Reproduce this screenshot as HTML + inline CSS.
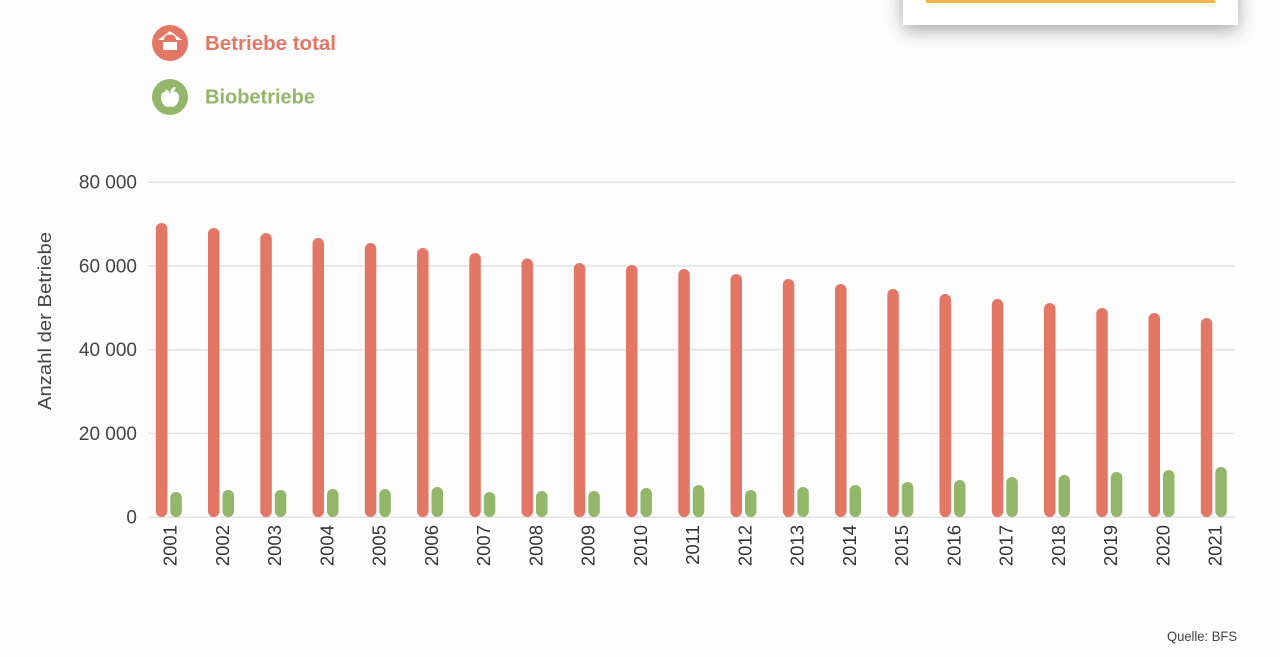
<!DOCTYPE html>
<html>
<head>
<meta charset="utf-8">
<style>
  html,body{margin:0;padding:0;background:#fdfdfd;}
  svg{display:block;}
  text{font-family:"Liberation Sans",sans-serif;}
</style>
</head>
<body>
<svg width="1280" height="657" viewBox="0 0 1280 657" xmlns="http://www.w3.org/2000/svg">
  <defs>
    <filter id="sh" x="-20%" y="-100%" width="140%" height="400%">
      <feGaussianBlur in="SourceAlpha" stdDeviation="9"/>
      <feOffset dy="5" result="b"/>
      <feComponentTransfer><feFuncA type="linear" slope="0.35"/></feComponentTransfer>
      <feMerge><feMergeNode/><feMergeNode in="SourceGraphic"/></feMerge>
    </filter>
  </defs>
  <rect width="1280" height="657" fill="#fdfdfd"/>

  <!-- top-right card -->
  <rect x="903" y="-30" width="335" height="55" fill="#ffffff" filter="url(#sh)"/>
  <rect x="926" y="0" width="289" height="3" fill="#f5b54b"/>

  <!-- legend -->
  <circle cx="170" cy="43" r="18" fill="#e37766"/>
  <polygon points="158,40 170,31 182,40" fill="#ffffff"/>
  <path d="M164,40 Q164,34.5 170,34.5 Q176,34.5 176,40 Z" fill="#e37766"/>
  <rect x="163" y="42" width="14" height="8" fill="#ffffff"/>
  <text x="205" y="50" font-size="20.5" font-weight="bold" fill="#e37766" textLength="131" lengthAdjust="spacingAndGlyphs">Betriebe total</text>

  <circle cx="170" cy="97" r="18" fill="#94b66a"/>
  <path d="M170,93.5 C166,90 161,91.5 161,97.5 C161,103 165,107 168,107 C169,107 169.5,106.3 170,106.3 C170.5,106.3 171,107 172,107 C175,107 179,103 179,97.5 C179,91.5 174,90 170,93.5 Z" fill="#ffffff"/>
  <path d="M170.5,92.5 C170.5,89 172.5,87 175.5,87 C175.5,90 173.5,92.5 170.5,92.5 Z" fill="#ffffff"/>
  <path d="M169.5,92.5 C168.5,90.5 167,89.5 165,89.5 C165.5,91.5 167.3,92.6 169.5,92.5 Z" fill="#ffffff"/>
  <text x="205" y="103.5" font-size="20.5" font-weight="bold" fill="#94b66a" textLength="110" lengthAdjust="spacingAndGlyphs">Biobetriebe</text>

  <!-- gridlines -->
  <g stroke="#e2e2e2" stroke-width="1.5">
    <line x1="148" y1="182.3" x2="1235" y2="182.3"/>
    <line x1="148" y1="266" x2="1235" y2="266"/>
    <line x1="148" y1="349.7" x2="1235" y2="349.7"/>
    <line x1="148" y1="433.5" x2="1235" y2="433.5"/>
    <line x1="148" y1="517.2" x2="1235" y2="517.2"/>
  </g>

  <!-- y tick labels -->
  <g font-size="19" fill="#444" text-anchor="end">
    <text x="137" y="188.5">80 000</text>
    <text x="137" y="272.5">60 000</text>
    <text x="137" y="356">40 000</text>
    <text x="137" y="440">20 000</text>
    <text x="137" y="523.5">0</text>
  </g>

  <!-- y title -->
  <text transform="translate(51,321) rotate(-90)" font-size="18.5" fill="#444" text-anchor="middle" textLength="178" lengthAdjust="spacingAndGlyphs">Anzahl der Betriebe</text>

  <!-- bars -->
  <g id="bars"></g>

  <g fill="#e37766">
    <rect x="155.8" y="223" width="11.5" height="294" rx="5.75"/>
    <rect x="208.0" y="228" width="11.5" height="289" rx="5.75"/>
    <rect x="260.3" y="233" width="11.5" height="284" rx="5.75"/>
    <rect x="312.5" y="238" width="11.5" height="279" rx="5.75"/>
    <rect x="364.8" y="243" width="11.5" height="274" rx="5.75"/>
    <rect x="417.0" y="248" width="11.5" height="269" rx="5.75"/>
    <rect x="469.3" y="253" width="11.5" height="264" rx="5.75"/>
    <rect x="521.5" y="258.5" width="11.5" height="258.5" rx="5.75"/>
    <rect x="573.8" y="263" width="11.5" height="254" rx="5.75"/>
    <rect x="626.0" y="265" width="11.5" height="252" rx="5.75"/>
    <rect x="678.3" y="269" width="11.5" height="248" rx="5.75"/>
    <rect x="730.5" y="274" width="11.5" height="243" rx="5.75"/>
    <rect x="782.8" y="279" width="11.5" height="238" rx="5.75"/>
    <rect x="835.0" y="284" width="11.5" height="233" rx="5.75"/>
    <rect x="887.3" y="289" width="11.5" height="228" rx="5.75"/>
    <rect x="939.5" y="294" width="11.5" height="223" rx="5.75"/>
    <rect x="991.8" y="299" width="11.5" height="218" rx="5.75"/>
    <rect x="1044.0" y="303" width="11.5" height="214" rx="5.75"/>
    <rect x="1096.3" y="308" width="11.5" height="209" rx="5.75"/>
    <rect x="1148.5" y="313" width="11.5" height="204" rx="5.75"/>
    <rect x="1200.8" y="318" width="11.5" height="199" rx="5.75"/>
  </g>
  <g fill="#94b66a">
    <rect x="170.3" y="492" width="11.5" height="25" rx="5.75"/>
    <rect x="222.5" y="490" width="11.5" height="27" rx="5.75"/>
    <rect x="274.8" y="490" width="11.5" height="27" rx="5.75"/>
    <rect x="327.0" y="489" width="11.5" height="28" rx="5.75"/>
    <rect x="379.3" y="489" width="11.5" height="28" rx="5.75"/>
    <rect x="431.5" y="487" width="11.5" height="30" rx="5.75"/>
    <rect x="483.8" y="492" width="11.5" height="25" rx="5.75"/>
    <rect x="536.0" y="491" width="11.5" height="26" rx="5.75"/>
    <rect x="588.3" y="491" width="11.5" height="26" rx="5.75"/>
    <rect x="640.5" y="488" width="11.5" height="29" rx="5.75"/>
    <rect x="692.8" y="485" width="11.5" height="32" rx="5.75"/>
    <rect x="745.0" y="490" width="11.5" height="27" rx="5.75"/>
    <rect x="797.3" y="487" width="11.5" height="30" rx="5.75"/>
    <rect x="849.5" y="485" width="11.5" height="32" rx="5.75"/>
    <rect x="901.8" y="482" width="11.5" height="35" rx="5.75"/>
    <rect x="954.0" y="480" width="11.5" height="37" rx="5.75"/>
    <rect x="1006.3" y="477" width="11.5" height="40" rx="5.75"/>
    <rect x="1058.5" y="475" width="11.5" height="42" rx="5.75"/>
    <rect x="1110.8" y="472" width="11.5" height="45" rx="5.75"/>
    <rect x="1163.0" y="470" width="11.5" height="47" rx="5.75"/>
    <rect x="1215.3" y="467" width="11.5" height="50" rx="5.75"/>
  </g>

  <!-- year labels -->
  <g font-size="18.5" fill="#333" text-anchor="end">
    <text transform="translate(176.5,525) rotate(-90)">2001</text>
    <text transform="translate(228.8,525) rotate(-90)">2002</text>
    <text transform="translate(281.0,525) rotate(-90)">2003</text>
    <text transform="translate(333.3,525) rotate(-90)">2004</text>
    <text transform="translate(385.5,525) rotate(-90)">2005</text>
    <text transform="translate(437.8,525) rotate(-90)">2006</text>
    <text transform="translate(490.0,525) rotate(-90)">2007</text>
    <text transform="translate(542.3,525) rotate(-90)">2008</text>
    <text transform="translate(594.5,525) rotate(-90)">2009</text>
    <text transform="translate(646.8,525) rotate(-90)">2010</text>
    <text transform="translate(699.0,525) rotate(-90)">2011</text>
    <text transform="translate(751.3,525) rotate(-90)">2012</text>
    <text transform="translate(803.5,525) rotate(-90)">2013</text>
    <text transform="translate(855.8,525) rotate(-90)">2014</text>
    <text transform="translate(908.0,525) rotate(-90)">2015</text>
    <text transform="translate(960.3,525) rotate(-90)">2016</text>
    <text transform="translate(1012.5,525) rotate(-90)">2017</text>
    <text transform="translate(1064.8,525) rotate(-90)">2018</text>
    <text transform="translate(1117.0,525) rotate(-90)">2019</text>
    <text transform="translate(1169.3,525) rotate(-90)">2020</text>
    <text transform="translate(1221.5,525) rotate(-90)">2021</text>
  </g>

  <!-- source -->
  <text x="1237" y="641" font-size="14" fill="#444" text-anchor="end" textLength="70" lengthAdjust="spacingAndGlyphs">Quelle: BFS</text>
</svg>
</body>
</html>
